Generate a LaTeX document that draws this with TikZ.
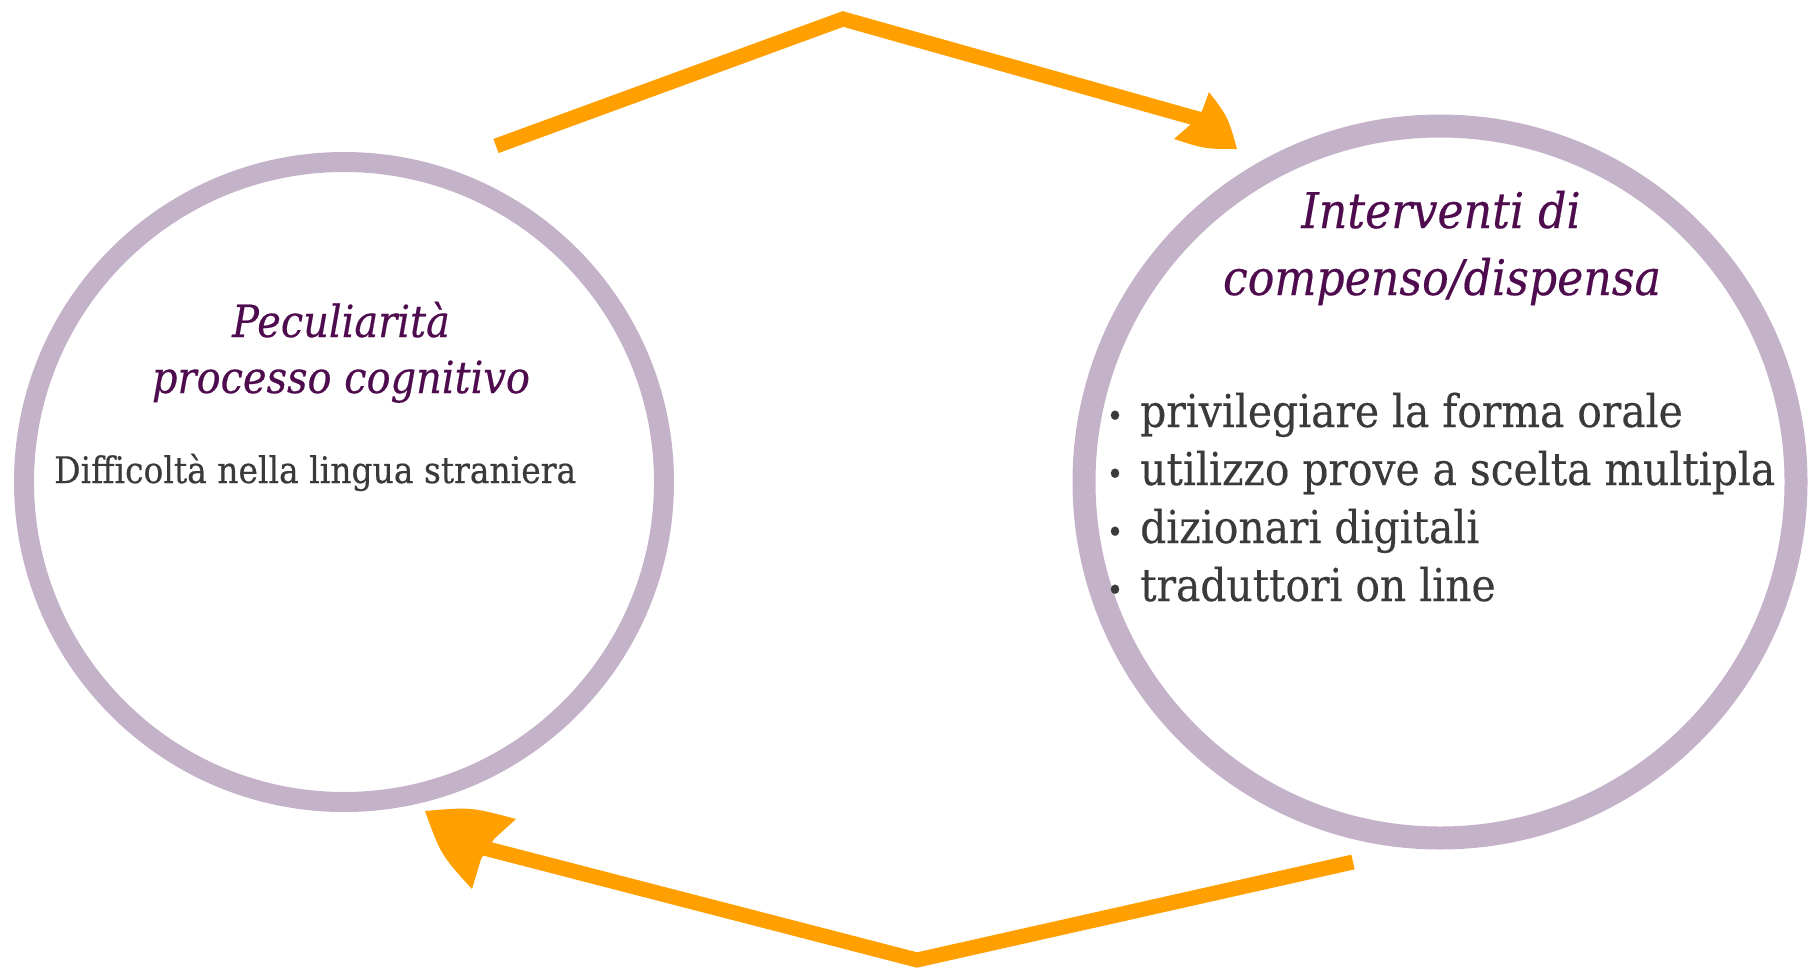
\documentclass[tikz,border=0pt]{standalone}
\usepackage{fontspec}
\setmainfont{DejaVu Serif}[FakeStretch=0.9, FakeBold=0.35]
\definecolor{ringc}{RGB}{196,178,200}
\definecolor{arrc}{RGB}{255,160,0}
\definecolor{ttlc}{RGB}{78,12,78}
\definecolor{txtc}{RGB}{58,58,58}
\newlength\refw
\begin{document}
\settowidth\refw{\itshape\fontsize{10}{12}\selectfont processo cognitivo}
\pgfmathsetmacro\ltsize{10*378/\refw}
\settowidth\refw{\fontsize{10}{12}\selectfont Difficoltà nella lingua straniera}
\pgfmathsetmacro\lbsize{10*522/\refw}
\settowidth\refw{\itshape\fontsize{10}{12}\selectfont compenso/dispensa}
\pgfmathsetmacro\rtsize{10*438/\refw}
\settowidth\refw{\fontsize{10}{12}\selectfont utilizzo prove a scelta multipla}
\pgfmathsetmacro\rbsize{10*635/\refw}
\pgfmathsetmacro\dotsize{0.7*\rbsize}
\begin{tikzpicture}[x=1pt,y=-1pt,
  ring/.style={circle, draw=ringc, inner sep=0pt},
  ttlL/.style={text=ttlc, inner sep=0pt, anchor=base, font=\itshape\fontsize{\ltsize}{\ltsize}\selectfont},
  ttlR/.style={text=ttlc, inner sep=0pt, anchor=base, font=\itshape\fontsize{\rtsize}{\rtsize}\selectfont},
  bodyL/.style={text=txtc, inner sep=0pt, anchor=base west, font=\fontsize{\lbsize}{\lbsize}\selectfont},
  bodyR/.style={text=txtc, inner sep=0pt, anchor=base west, font=\fontsize{\rbsize}{\rbsize}\selectfont},
  dotR/.style={text=txtc, inner sep=0pt, anchor=base, font=\fontsize{\dotsize}{\dotsize}\selectfont},
  arrline/.style={draw=arrc, line width=15pt, line join=miter, miter limit=10},
  arrhead/.style={fill=arrc}
]
\useasboundingbox (0,0) rectangle (1809,975);

% circles
\node[ring, line width=20pt, minimum size=640pt] (left) at (344,482) {};
\node[ring, line width=23pt, minimum size=712pt] (right) at (1440,482) {};

% left texts
\node[ttlL] (lt1) at (341,337) {Peculiarità};
\node[ttlL] (lt2) at (341,393) {processo cognitivo};
\node[bodyL] (lb) at (54,483) {Difficoltà nella lingua straniera};

% right texts
\node[ttlR] (rt1) at (1441,228) {Interventi di};
\node[ttlR] (rt2) at (1442,295) {compenso/dispensa};
\node[dotR] (d1) at (1115,427) {•};
\node[bodyR] (b1) at (1140,427) {privilegiare la forma orale};
\node[dotR] (d2) at (1115,485) {•};
\node[bodyR] (b2) at (1140,485) {utilizzo prove a scelta multipla};
\node[dotR] (d3) at (1115,543) {•};
\node[bodyR] (b3) at (1140,543) {dizionari digitali};
\node[dotR] (d4) at (1115,601) {•};
\node[bodyR] (b4) at (1140,601) {traduttori on line};

% top arrow
\coordinate (a1s) at (496,146);
\coordinate (a1m) at (843,19);
\coordinate (a1e) at (1202,120);
\coordinate (a1t) at (1237,149);
\draw[arrline] (a1s) -- (a1m) -- (a1e);
\fill[arrhead] (a1t) .. controls (1228,117) .. (1209,92) -- (1202,111) -- (1190,125) -- (1174,139) .. controls (1205,149) .. (a1t) -- cycle;

% bottom arrow
\coordinate (a2s) at (1353,862);
\coordinate (a2m) at (917,960);
\coordinate (a2e) at (482,847.5);
\coordinate (a2t) at (425,811);
\draw[arrline] (a2s) -- (a2m) -- (a2e);
\fill[arrhead] (a2t) .. controls (471,807) .. (516,819) -- (494,839) -- (481,859) -- (472,889) .. controls (441,855) .. (a2t) -- cycle;
\end{tikzpicture}
\end{document}
